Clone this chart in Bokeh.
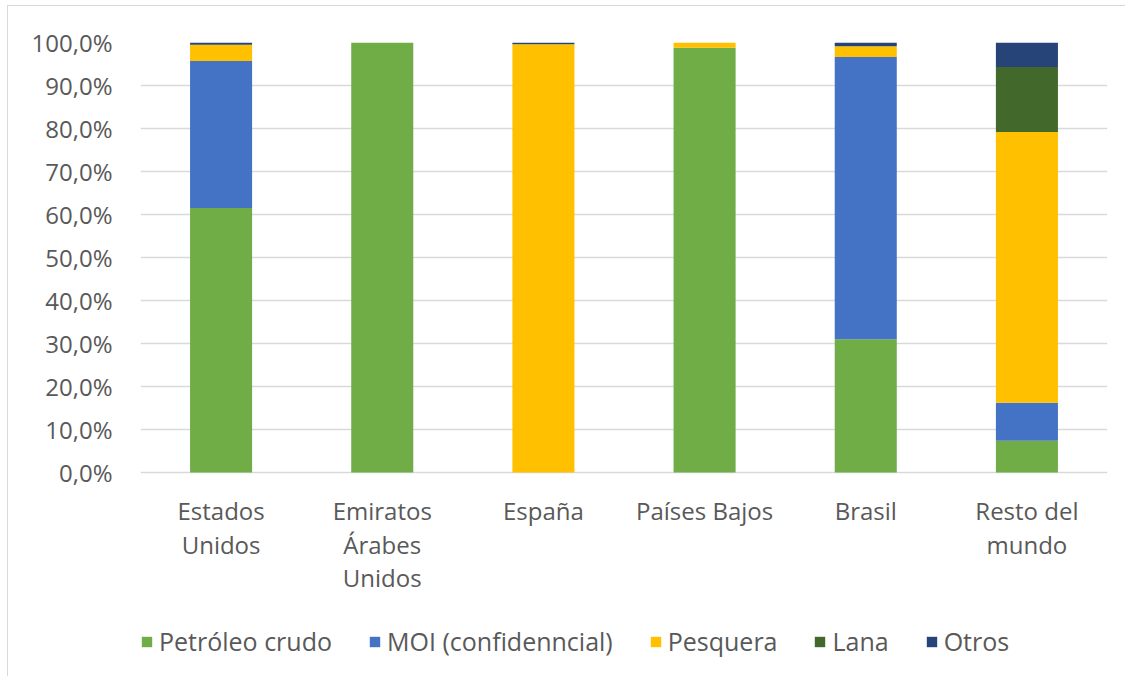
from bokeh.plotting import figure
from bokeh.models import (ColumnDataSource, FactorRange, Range1d, Legend, LegendItem,
                          CustomJSTickFormatter, FixedTicker)
from bokeh.core.properties import value
from bokeh.embed import file_html
from bokeh.resources import INLINE

categories = ["Estados Unidos", "Emiratos Árabes Unidos", "España", "Países Bajos", "Brasil", "Resto del mundo"]
category_labels = ["Estados\nUnidos", "Emiratos\nÁrabes\nUnidos", "España", "Países Bajos", "Brasil", "Resto del\nmundo"]

series = ["Petróleo crudo", "MOI (confidenncial)", "Pesquera", "Lana", "Otros"]
petroleo = [61.5, 100.0, 0.0, 98.8, 31.0, 7.4]
moi = [34.2, 0.0, 0.0, 0.0, 65.6, 8.8]
pesquera = [3.8, 0.0, 99.6, 1.2, 2.5, 63.0]
lana = [0.0, 0.0, 0.0, 0.0, 0.0, 15.1]
otros = [0.5, 0.0, 0.4, 0.0, 0.9, 5.7]
colors = ["#70AD47", "#4472C4", "#FFC000", "#43682B", "#264478"]
y_ticks = [0, 10, 20, 30, 40, 50, 60, 70, 80, 90, 100]

keys = ["petroleo", "moi", "pesquera", "lana", "otros"]
source = ColumnDataSource(data=dict(cat=categories, petroleo=petroleo, moi=moi,
                                    pesquera=pesquera, lana=lana, otros=otros))

# layout (pixels): plot area 430 px tall for 0..100 %, extra room below for labels and legend
PX_PER_UNIT = 4.3
EXTRA_BELOW = 200            # px under the 0 % line
FIRST_BASELINE = 38          # px from 0 % line to first label baseline
LINE_STEP = 33.5             # px between label lines
y_min = -EXTRA_BELOW / PX_PER_UNIT

p = figure(x_range=FactorRange(*categories, range_padding=0), y_range=Range1d(y_min, 100),
           frame_width=967, frame_height=int(round(430 + EXTRA_BELOW)),
           min_border_left=132, min_border_top=36, min_border_right=18, min_border_bottom=4,
           output_backend="svg", toolbar_location=None, tools="")
p.styles = {"border-left": "1px solid #d9d9d9", "border-top": "1px solid #d9d9d9",
            "margin-left": "7px", "margin-top": "5px"}
p.outline_line_color = None
p.background_fill_color = "white"
p.border_fill_color = "white"

renderers = p.vbar_stack(keys, x="cat", width=0.385, color=colors, line_color=None, source=source)

font = "Open Sans"
grey = "#595959"
p.yaxis.ticker = FixedTicker(ticks=y_ticks)
p.yaxis.formatter = CustomJSTickFormatter(code="return tick.toFixed(1).replace('.', ',') + '%';")
p.yaxis.axis_line_color = None
p.yaxis.major_tick_line_color = None
p.yaxis.minor_tick_line_color = None
p.yaxis.major_tick_out = 0
p.yaxis.major_label_standoff = 28
p.yaxis.major_label_text_font = font
p.yaxis.major_label_text_font_size = "24px"
p.yaxis.major_label_text_color = grey

p.xaxis.visible = False
p.xgrid.grid_line_color = None
p.ygrid.ticker = FixedTicker(ticks=y_ticks)
p.ygrid.grid_line_color = "#d9d9d9"
p.ygrid.grid_line_width = 1.5

# category labels, one text row per line
lx, ly, lt = [], [], []
for c, lab in zip(categories, category_labels):
    for i, t in enumerate(lab.split("\n")):
        lx.append(c)
        ly.append(-(FIRST_BASELINE + i * LINE_STEP) / PX_PER_UNIT)
        lt.append(t)
p.text(x="x", y="y", text="t", source=ColumnDataSource(dict(x=lx, y=ly, t=lt)),
       text_font=value(font), text_font_size="24px", text_color=grey,
       text_align="center", text_baseline="alphabetic")

legend = Legend(items=[LegendItem(label=s, renderers=[r]) for s, r in zip(series, renderers)],
                orientation="horizontal", location=(0, 14))
legend.border_line_color = None
legend.background_fill_alpha = 0
legend.padding = 5
legend.margin = 0
legend.spacing = 36
legend.glyph_width = 13
legend.glyph_height = 13
legend.label_standoff = 6
legend.label_text_font = font
legend.label_text_font_size = "25px"
legend.label_text_color = grey
p.add_layout(legend, "center")

open("out.html", "w").write(file_html(p, INLINE))
